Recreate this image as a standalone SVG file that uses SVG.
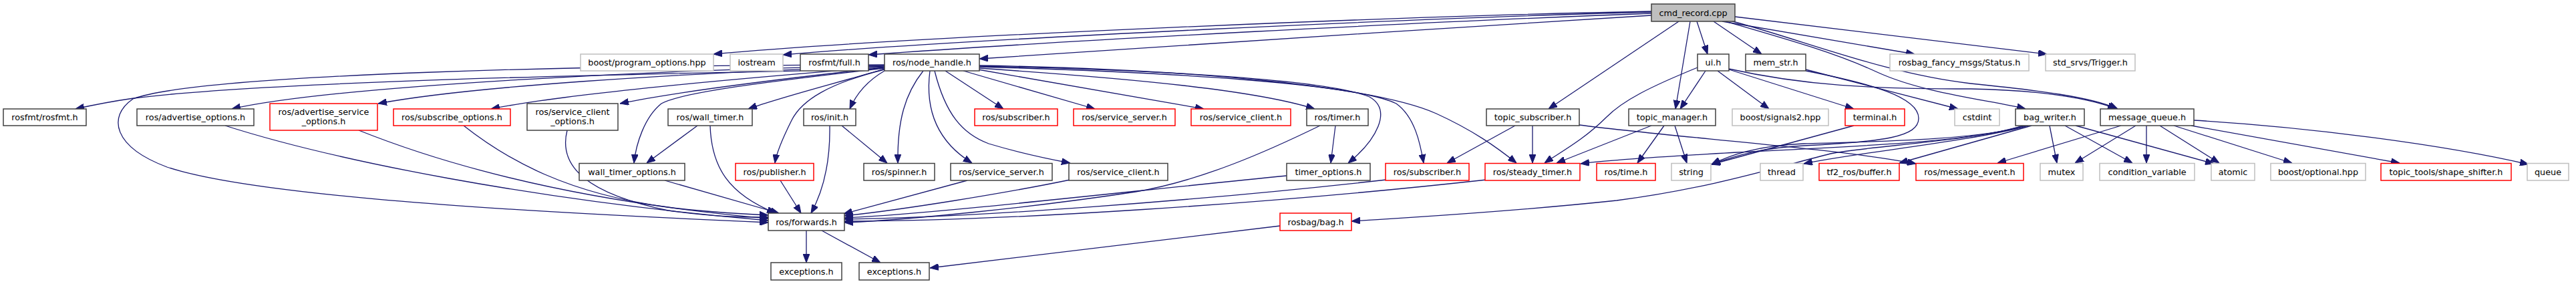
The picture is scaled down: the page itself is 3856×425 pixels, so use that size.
<svg xmlns="http://www.w3.org/2000/svg" width="3856" height="425" viewBox="0 0 3856 425">
<style>
rect{stroke-width:1.5;fill:#fff}
.n{stroke:#404040}
.g{stroke:#bfbfbf}
.r{stroke:#ff0000}
.root{stroke:#404040;fill:#bfbfbf}
text{font-family:"DejaVu Sans","Liberation Sans",sans-serif;font-size:12.8px;text-anchor:middle;fill:#000}
#edges path{fill:none;stroke:#191970;stroke-width:1.3;marker-end:url(#a)}
</style>
<defs>
<marker id="a" viewBox="0 0 13 10" refX="13" refY="5" markerWidth="13" markerHeight="10" markerUnits="userSpaceOnUse" orient="auto">
<path d="M0,0L13,5L0,10z" fill="#191970" stroke="#191970" stroke-width="1"/>
</marker>
</defs>
<rect width="3856" height="425" style="fill:#fff;stroke:none"/>
<g id="edges">
<path d="M2472,17 C2100,24 1350,55 1068,81"/>
<path d="M2472,18 C2150,26 1450,58 1172,82"/>
<path d="M2472,20 C2150,32 1600,60 1300,82"/>
<path d="M2472,23 C2150,42 1750,70 1466,88"/>
<path d="M2513,32 L2318,163"/>
<path d="M2530,32 L2508,163"/>
<path d="M2540,32 L2556,81"/>
<path d="M2565,32 L2637,81"/>
<path d="M2578,32 L2866,81"/>
<path d="M2597,25 L3064,81"/>
<path d="M2583,32 C2680,60 2750,80 2810,108 C2880,140 2980,150 3032,163"/>
<path d="M2590,31 C2700,60 2820,110 2950,125 C3050,135 3130,145 3170,163"/>
<path d="M2588,103 C2700,128 2800,133 2950,133 C3060,135 3130,148 3168,163"/>
<path d="M2553,106 L2515,163"/>
<path d="M2541,101 C2470,130 2430,150 2405,175 C2370,210 2335,228 2312,244"/>
<path d="M2571,106 L2648,163"/>
<path d="M2588,104 L2775,163"/>
<path d="M2703,104 L2931,163"/>
<path d="M2703,106 C2800,125 2872,145 2872,177 C2872,205 2820,212 2700,218 C2640,221 2600,232 2562,246"/>
<path d="M2775,188 L2562,246"/>
<path d="M2472,188 L2330,244"/>
<path d="M2491,188 L2451,244"/>
<path d="M2507,188 L2525,244"/>
<path d="M2268,188 L2166,244"/>
<path d="M2294,188 L2294,244"/>
<path d="M2364,187 C2500,205 2750,222 2868,245"/>
<path d="M3033,188 C2960,210 2800,212 2700,215 C2630,218 2590,232 2562,246"/>
<path d="M3030,188 C2950,212 2800,218 2600,228 C2500,234 2420,238 2366,245"/>
<path d="M3036,188 C2950,212 2780,228 2700,245"/>
<path d="M3041,188 L2843,244"/>
<path d="M3028,188 C2950,212 2800,218 2740,230 C2660,250 2560,282 2420,300 C2250,318 2100,326 2023,331"/>
<path d="M3068,188 L3079,244"/>
<path d="M3091,188 L3192,244"/>
<path d="M3107,188 L3314,245"/>
<path d="M3175,188 L2990,244"/>
<path d="M3197,188 L3106,244"/>
<path d="M3213,188 L3213,244"/>
<path d="M3233,188 L3322,244"/>
<path d="M3254,188 L3431,244"/>
<path d="M3280,188 L3592,244"/>
<path d="M3284,180 C3450,190 3650,215 3785,246"/>
<path d="M1415,106 L1502,163"/>
<path d="M1442,106 L1639,163"/>
<path d="M1464,104 L1802,163"/>
<path d="M1466,102 C1700,118 1880,135 1968,163"/>
<path d="M1466,99 C1750,105 1990,120 2050,145 C2085,165 2060,210 2018,244"/>
<path d="M1466,100 C1750,108 2030,125 2090,155 C2118,175 2126,215 2131,244"/>
<path d="M1466,98 C1800,104 2060,130 2150,170 C2205,195 2240,220 2270,244"/>
<path d="M1382,106 C1355,140 1343,180 1344,244"/>
<path d="M1392,106 C1385,160 1400,210 1455,244"/>
<path d="M1399,106 C1415,170 1440,200 1480,215 C1530,230 1570,238 1602,244"/>
<path d="M1324,106 C1300,120 1282,140 1272,163"/>
<path d="M1324,104 C1240,125 1200,150 1185,180 C1170,210 1162,230 1160,244"/>
<path d="M1324,103 C1250,125 1170,145 1120,163"/>
<path d="M1324,102 C1150,122 1020,138 990,155 C965,175 952,215 949,244"/>
<path d="M1324,101 C1150,120 1000,140 928,155"/>
<path d="M1324,100 C1100,118 850,140 735,163"/>
<path d="M1324,99 C1000,110 700,130 566,155"/>
<path d="M1324,98 C1000,104 500,128 347,163"/>
<path d="M1324,97 C900,97 300,110 199,148 C160,175 170,220 250,250 C400,300 900,322 1150,333"/>
<path d="M1198,106 C900,112 400,122 200,147 C165,152 140,157 113,163"/>
<path d="M337,188 C500,240 800,300 1150,330"/>
<path d="M537,195 C700,260 900,305 1150,327"/>
<path d="M694,188 C760,240 850,290 1000,310 C1060,318 1110,320 1150,322"/>
<path d="M849,195 C835,250 880,290 1000,315 C1070,325 1110,325 1150,325"/>
<path d="M1044,188 L968,244"/>
<path d="M1063,188 C1065,250 1090,290 1161,319"/>
<path d="M995,270 L1166,319"/>
<path d="M1168,270 L1199,319"/>
<path d="M1242,188 C1243,250 1230,290 1214,319"/>
<path d="M1260,188 L1328,244"/>
<path d="M1448,270 L1263,320"/>
<path d="M1602,269 C1500,290 1350,314 1264,323"/>
<path d="M1926,263 C1700,285 1400,320 1264,326"/>
<path d="M2075,269 C1800,300 1450,326 1264,328"/>
<path d="M2225,269 C1900,305 1500,331 1264,331"/>
<path d="M1976,188 C1900,225 1800,270 1700,287 C1550,310 1350,330 1264,333"/>
<path d="M1999,188 L1992,244"/>
<path d="M1207,345 L1207,393"/>
<path d="M1230,345 L1318,393"/>
<path d="M1916,338 C1700,365 1500,388 1392,401"/>
</g>
<g id="cmd_record"><rect class="root" x="2472" y="6" width="125" height="26"/><text x="2534.5" y="23.5">cmd_record.cpp</text></g>
<g id="boost_po"><rect class="g" x="869" y="81" width="199" height="25"/><text x="968.5" y="98">boost/program_options.hpp</text></g>
<g id="iostream"><rect class="g" x="1093" y="81" width="79" height="25"/><text x="1132.5" y="98">iostream</text></g>
<g id="rosfmt_full"><rect class="n" x="1198" y="81" width="102" height="25"/><text x="1249" y="98">rosfmt/full.h</text></g>
<g id="node_handle"><rect class="n" x="1324" y="81" width="142" height="25"/><text x="1395" y="98">ros/node_handle.h</text></g>
<g id="ui"><rect class="n" x="2541" y="81" width="47" height="25"/><text x="2564.5" y="98">ui.h</text></g>
<g id="mem_str"><rect class="n" x="2613" y="81" width="90" height="25"/><text x="2658" y="98">mem_str.h</text></g>
<g id="status"><rect class="g" x="2829" y="81" width="208" height="25"/><text x="2933" y="98">rosbag_fancy_msgs/Status.h</text></g>
<g id="trigger"><rect class="g" x="3062" y="81" width="134" height="25"/><text x="3129" y="98">std_srvs/Trigger.h</text></g>
<g id="rosfmt_rosfmt"><rect class="n" x="5" y="163" width="124" height="25"/><text x="67" y="180">rosfmt/rosfmt.h</text></g>
<g id="adv_opts"><rect class="n" x="205" y="163" width="175" height="25"/><text x="292.5" y="180">ros/advertise_options.h</text></g>
<g id="adv_srv_opts"><rect class="r" x="404" y="155" width="161" height="40"/><text x="484.5" y="171.5">ros/advertise_service</text><text x="484.5" y="186">_options.h</text></g>
<g id="sub_opts"><rect class="r" x="589" y="163" width="175" height="25"/><text x="676.5" y="180">ros/subscribe_options.h</text></g>
<g id="srv_cli_opts"><rect class="n" x="789" y="155" width="136" height="40"/><text x="857" y="171.5">ros/service_client</text><text x="857" y="186">_options.h</text></g>
<g id="wall_timer"><rect class="n" x="1000" y="163" width="126" height="25"/><text x="1063" y="180">ros/wall_timer.h</text></g>
<g id="init"><rect class="n" x="1203" y="163" width="78" height="25"/><text x="1242" y="180">ros/init.h</text></g>
<g id="subscriber2"><rect class="r" x="1459" y="163" width="124" height="25"/><text x="1521" y="180">ros/subscriber.h</text></g>
<g id="service_server2"><rect class="r" x="1607" y="163" width="152" height="25"/><text x="1683" y="180">ros/service_server.h</text></g>
<g id="service_client2"><rect class="r" x="1783" y="163" width="149" height="25"/><text x="1857.5" y="180">ros/service_client.h</text></g>
<g id="timer"><rect class="n" x="1956" y="163" width="92" height="25"/><text x="2002" y="180">ros/timer.h</text></g>
<g id="topic_sub"><rect class="n" x="2225" y="163" width="139" height="25"/><text x="2294.5" y="180">topic_subscriber.h</text></g>
<g id="topic_mgr"><rect class="n" x="2438" y="163" width="130" height="25"/><text x="2503" y="180">topic_manager.h</text></g>
<g id="signals2"><rect class="g" x="2593" y="163" width="144" height="25"/><text x="2665" y="180">boost/signals2.hpp</text></g>
<g id="terminal"><rect class="r" x="2762" y="163" width="89" height="25"/><text x="2806.5" y="180">terminal.h</text></g>
<g id="cstdint"><rect class="g" x="2926" y="163" width="67" height="25"/><text x="2959.5" y="180">cstdint</text></g>
<g id="bag_writer"><rect class="n" x="3017" y="163" width="103" height="25"/><text x="3068.5" y="180">bag_writer.h</text></g>
<g id="msg_queue"><rect class="n" x="3144" y="163" width="140" height="25"/><text x="3214" y="180">message_queue.h</text></g>
<g id="wall_timer_opts"><rect class="n" x="867" y="244.5" width="158" height="25.5"/><text x="946" y="261.5">wall_timer_options.h</text></g>
<g id="publisher"><rect class="r" x="1101" y="244.5" width="117" height="25.5"/><text x="1159.5" y="261.5">ros/publisher.h</text></g>
<g id="spinner"><rect class="n" x="1293" y="244.5" width="106" height="25.5"/><text x="1346" y="261.5">ros/spinner.h</text></g>
<g id="service_server3"><rect class="n" x="1423" y="244.5" width="152" height="25.5"/><text x="1499" y="261.5">ros/service_server.h</text></g>
<g id="service_client3"><rect class="n" x="1600" y="244.5" width="148" height="25.5"/><text x="1674" y="261.5">ros/service_client.h</text></g>
<g id="timer_opts"><rect class="n" x="1926" y="244.5" width="125" height="25.5"/><text x="1988.5" y="261.5">timer_options.h</text></g>
<g id="subscriber3"><rect class="r" x="2074" y="244.5" width="125" height="25.5"/><text x="2136.5" y="261.5">ros/subscriber.h</text></g>
<g id="steady_timer"><rect class="r" x="2223" y="244.5" width="142" height="25.5"/><text x="2294" y="261.5">ros/steady_timer.h</text></g>
<g id="time"><rect class="r" x="2390" y="244.5" width="88" height="25.5"/><text x="2434" y="261.5">ros/time.h</text></g>
<g id="string"><rect class="g" x="2502" y="244.5" width="59" height="25.5"/><text x="2531.5" y="261.5">string</text></g>
<g id="thread"><rect class="g" x="2635" y="244.5" width="64" height="25.5"/><text x="2667" y="261.5">thread</text></g>
<g id="tf2_buffer"><rect class="r" x="2723" y="244.5" width="120" height="25.5"/><text x="2783" y="261.5">tf2_ros/buffer.h</text></g>
<g id="msg_event"><rect class="r" x="2868" y="244.5" width="161" height="25.5"/><text x="2948.5" y="261.5">ros/message_event.h</text></g>
<g id="mutex"><rect class="g" x="3054" y="244.5" width="64" height="25.5"/><text x="3086" y="261.5">mutex</text></g>
<g id="condvar"><rect class="g" x="3143" y="244.5" width="142" height="25.5"/><text x="3214" y="261.5">condition_variable</text></g>
<g id="atomic"><rect class="g" x="3310" y="244.5" width="65" height="25.5"/><text x="3342.5" y="261.5">atomic</text></g>
<g id="optional"><rect class="g" x="3399" y="244.5" width="142" height="25.5"/><text x="3470" y="261.5">boost/optional.hpp</text></g>
<g id="shape_shifter"><rect class="r" x="3564" y="244.5" width="195" height="25.5"/><text x="3661.5" y="261.5">topic_tools/shape_shifter.h</text></g>
<g id="queue"><rect class="g" x="3783" y="244.5" width="62" height="25.5"/><text x="3814" y="261.5">queue</text></g>
<g id="forwards"><rect class="n" x="1150" y="319" width="114" height="26"/><text x="1207" y="336.5">ros/forwards.h</text></g>
<g id="rosbag_bag"><rect class="r" x="1916" y="319" width="107" height="26"/><text x="1969.5" y="336.5">rosbag/bag.h</text></g>
<g id="exceptions1"><rect class="n" x="1154" y="393" width="106" height="26"/><text x="1207" y="410.5">exceptions.h</text></g>
<g id="exceptions2"><rect class="n" x="1286" y="393" width="105" height="26"/><text x="1338.5" y="410.5">exceptions.h</text></g>
</svg>
